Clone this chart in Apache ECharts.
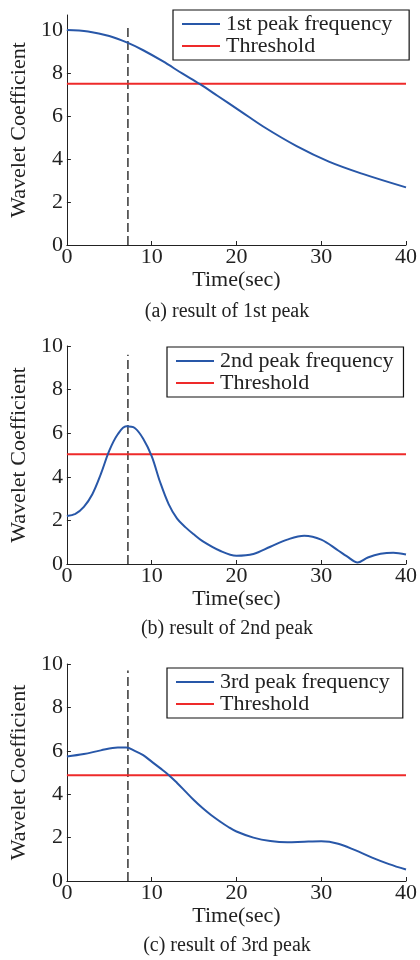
<!DOCTYPE html>
<html>
<head>
<meta charset="utf-8">
<title>Wavelet coefficient results</title>
<script src="https://cdn.jsdelivr.net/npm/echarts@6/dist/echarts.min.js"></script>
<style>
  html, body { margin: 0; padding: 0; background: #fff; }
  #chart { width: 420px; height: 960px; }
</style>
</head>
<body>
<div id="chart"></div>
<script>
// values
const timeA = [0, 2.5, 5, 7.2, 9, 11.3, 13.6, 15.7, 17.8, 20.5, 23.2, 27.1, 30.9, 34.8, 40];
const coefA = [10.0, 9.93, 9.72, 9.4, 9.06, 8.55, 7.98, 7.48, 6.93, 6.22, 5.5, 4.6, 3.88, 3.32, 2.68];

const timeB = [0, 1, 2, 3, 4, 5, 6, 7, 8, 9, 10, 11, 12, 13, 14, 15, 16, 18, 20, 22, 24, 26, 28, 30, 32, 33, 34.3, 35.5, 37, 38.5, 40];
const coefB = [2.2, 2.3, 2.62, 3.2, 4.12, 5.2, 5.95, 6.32, 6.24, 5.75, 4.95, 3.75, 2.75, 2.08, 1.68, 1.35, 1.05, 0.62, 0.38, 0.46, 0.79, 1.12, 1.3, 1.12, 0.62, 0.36, 0.07, 0.3, 0.47, 0.52, 0.44];

const timeC = [0, 2, 4, 6, 7, 8, 9, 10, 11, 12, 13, 14, 15, 16, 17, 18, 19, 20, 22, 24, 26, 28, 30, 32, 34, 36, 38, 40];
const coefC = [5.74, 5.85, 6.02, 6.15, 6.15, 6.0, 5.8, 5.5, 5.2, 4.89, 4.52, 4.12, 3.72, 3.36, 3.04, 2.76, 2.5, 2.28, 2.0, 1.84, 1.78, 1.81, 1.83, 1.72, 1.42, 1.08, 0.78, 0.53];

const thresholds = [7.5, 5.03, 4.87];
const peakTime = 7.2;
const markerTops = [10.2, 9.6, 9.7];
const curveNames = ['1st peak frequency', '2nd peak frequency', '3rd peak frequency'];
const captions = ['(a) result of 1st peak', '(b) result of 2nd peak', '(c) result of 3rd peak'];
const yMax = [10.7, 10, 10];
const yTicks = [0, 2, 4, 6, 8, 10];

const font = "'Liberation Serif', 'Times New Roman', serif";
const blue = '#2857a8';
const red = '#ee2a2a';

const chart = echarts.init(document.getElementById('chart'));

const grids = [
  { left: 62, top: 15, width: 347, height: 230 },
  { left: 62, top: 346, width: 347, height: 218 },
  { left: 62, top: 664, width: 347, height: 217 }
];
const legendBoxes = [
  { left: 173, top: 10, padding: [3, 17, 3, 9] },
  { left: 167, top: 347, padding: [3, 10, 3, 9] },
  { left: 167, top: 668, padding: [3, 13, 3, 9] }
];
const captionY = [312, 629, 946];

const curves = [
  timeA.map((t, i) => [t, coefA[i]]),
  timeB.map((t, i) => [t, coefB[i]]),
  timeC.map((t, i) => [t, coefC[i]])
];

const xAxes = [];
const yAxes = [];
const series = [];
const legends = [];
const graphics = [];

for (let p = 0; p < 3; p++) {
  xAxes.push({
    type: 'value',
    gridIndex: p,
    min: 0,
    max: 40,
    interval: 10,
    name: 'Time(sec)',
    nameLocation: 'middle',
    nameGap: 22,
    nameTextStyle: { fontFamily: font, fontSize: 22, color: '#222' },
    axisLine: { lineStyle: { color: '#222', width: 1 } },
    axisTick: { inside: true, length: 4, lineStyle: { color: '#222' } },
    axisLabel: { fontFamily: font, fontSize: 22, color: '#222', margin: 1 },
    splitLine: { show: false }
  });
  yAxes.push({
    type: 'value',
    gridIndex: p,
    min: 0,
    max: yMax[p],
    name: 'Wavelet Coefficient',
    nameLocation: 'middle',
    nameGap: 30,
    nameTextStyle: { fontFamily: font, fontSize: 22, color: '#222' },
    axisLine: { show: true, lineStyle: { color: '#222', width: 1 } },
    axisTick: { show: true, inside: true, length: 4, customValues: yTicks, lineStyle: { color: '#222' } },
    axisLabel: { fontFamily: font, fontSize: 22, color: '#222', margin: 4, customValues: yTicks },
    splitLine: { show: false }
  });
  series.push({
    name: curveNames[p],
    type: 'line',
    xAxisIndex: p,
    yAxisIndex: p,
    smooth: 0.35,
    symbol: 'none',
    data: curves[p],
    lineStyle: { color: blue, width: 2 },
    itemStyle: { color: blue },
    z: 3
  });
  series.push({
    name: 'Threshold',
    type: 'line',
    xAxisIndex: p,
    yAxisIndex: p,
    symbol: 'none',
    data: [[0, thresholds[p]], [40, thresholds[p]]],
    lineStyle: { color: red, width: 2 },
    itemStyle: { color: red },
    z: 2
  });
  series.push({
    name: 'peak time ' + p,
    type: 'line',
    xAxisIndex: p,
    yAxisIndex: p,
    symbol: 'none',
    data: [[peakTime, 0], [peakTime, markerTops[p]]],
    lineStyle: { color: '#000', width: 1.2, type: [9, 4] },
    z: 1
  });
  legends.push(Object.assign({
    orient: 'vertical',
    data: [curveNames[p], 'Threshold'],
    selectedMode: false,
    icon: 'rect',
    itemWidth: 38,
    itemHeight: 2.2,
    itemGap: 0,
    backgroundColor: '#fff',
    borderColor: '#111',
    borderWidth: 1.2,
    textStyle: { fontFamily: font, fontSize: 22, lineHeight: 22, color: '#222', padding: [0, 0, 0, 1] }
  }, legendBoxes[p]));
  graphics.push({
    type: 'text',
    x: 227,
    y: captionY[p],
    style: {
      text: captions[p],
      font: '20px ' + font,
      fill: '#222',
      textAlign: 'center',
      textVerticalAlign: 'middle'
    }
  });
}

chart.setOption({
  animation: false,
  backgroundColor: '#fff',
  grid: grids,
  xAxis: xAxes,
  yAxis: yAxes,
  legend: legends,
  series: series,
  graphic: graphics
});
</script>
</body>
</html>
